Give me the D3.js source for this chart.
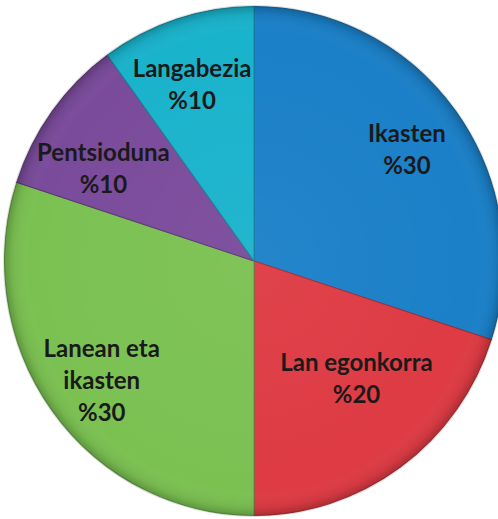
<!DOCTYPE html>
<html>
<head>
<meta charset="utf-8">
<script src="https://cdn.jsdelivr.net/npm/d3@7"></script>
<style>
  html, body { margin: 0; padding: 0; background: #fff; }
  svg { display: block; }
</style>
</head>
<body>
<svg id="chart" viewBox="0 0 498 519" width="498" height="519"></svg>
<script>
// data
const labels = [["Ikasten"], ["Lan egonkorra"], ["Lanean eta", "ikasten"], ["Pentsioduna"], ["Langabezia"]];
const values = [30, 20, 30, 10, 10];
const colors = ["#1b80c8", "#de3b44", "#7bc152", "#7a4b9b", "#1ab3cc"];

const svg = d3.select("#chart");
const cx = 254, cy = 261, R = 252;

// label placement (Excel best-fit): share of radius and small turn in degrees
const labelRatio = [0.75, 0.62, 0.77, 0.70, 0.74];
const labelTurn = [0, -5, -2.3, -4.6, -1.4];

const defs = svg.append("defs");
const shade = defs.append("radialGradient").attr("id", "shade")
    .attr("gradientUnits", "userSpaceOnUse")
    .attr("cx", 0).attr("cy", 0).attr("r", R);
shade.append("stop").attr("offset", "0%").attr("stop-color", "#fff").attr("stop-opacity", 0.04);
shade.append("stop").attr("offset", "90%").attr("stop-color", "#fff").attr("stop-opacity", 0);
shade.append("stop").attr("offset", "97%").attr("stop-color", "#000").attr("stop-opacity", 0.06);
shade.append("stop").attr("offset", "100%").attr("stop-color", "#000").attr("stop-opacity", 0.22);

const pie = d3.pie().sort(null).value(d => d);
const arcs = pie(values);
const arc = d3.arc().innerRadius(0).outerRadius(R);

const g = svg.append("g").attr("transform", `translate(${cx},${cy}) scale(0.99,1.01)`);

// soft shadow round the disc
g.append("circle").attr("r", R + 1.5).attr("fill", "#bbb").attr("opacity", 0.5);

g.selectAll("path.slice")
    .data(arcs)
    .enter()
    .append("path")
    .attr("class", "slice")
    .attr("d", arc)
    .attr("fill", (d, i) => colors[i])
    .attr("stroke", (d, i) => d3.color(colors[i]).darker(0.8))
    .attr("stroke-width", 1);

g.selectAll("path.shade")
    .data(arcs)
    .enter()
    .append("path")
    .attr("class", "shade")
    .attr("d", arc)
    .attr("fill", "url(#shade)");

// labels
const lg = svg.append("g").attr("transform", `translate(${cx},${cy})`);
const lab = lg.selectAll("text.lab")
    .data(arcs)
    .enter()
    .append("text")
    .attr("class", "lab")
    .attr("text-anchor", "middle")
    .attr("font-family", "Lato, 'Open Sans', sans-serif")
    .attr("font-weight", "bold")
    .attr("font-size", 24)
    .attr("fill", "#1a1a1a")
    .attr("transform", (d, i) => {
        const a = (d.startAngle + d.endAngle) / 2 + labelTurn[i] * Math.PI / 180;
        const r = R * labelRatio[i];
        return `translate(${Math.sin(a) * r},${-Math.cos(a) * r})`;
    });

lab.each(function (d, i) {
    const lines = labels[i].concat(["%" + values[i]]);
    const t = d3.select(this);
    const lh = 32;
    lines.forEach((s, k) => {
        t.append("tspan")
            .attr("x", 0)
            .attr("y", (k - (lines.length - 1) / 2) * lh + 8)
            .text(s);
    });
});
</script>
</body>
</html>
